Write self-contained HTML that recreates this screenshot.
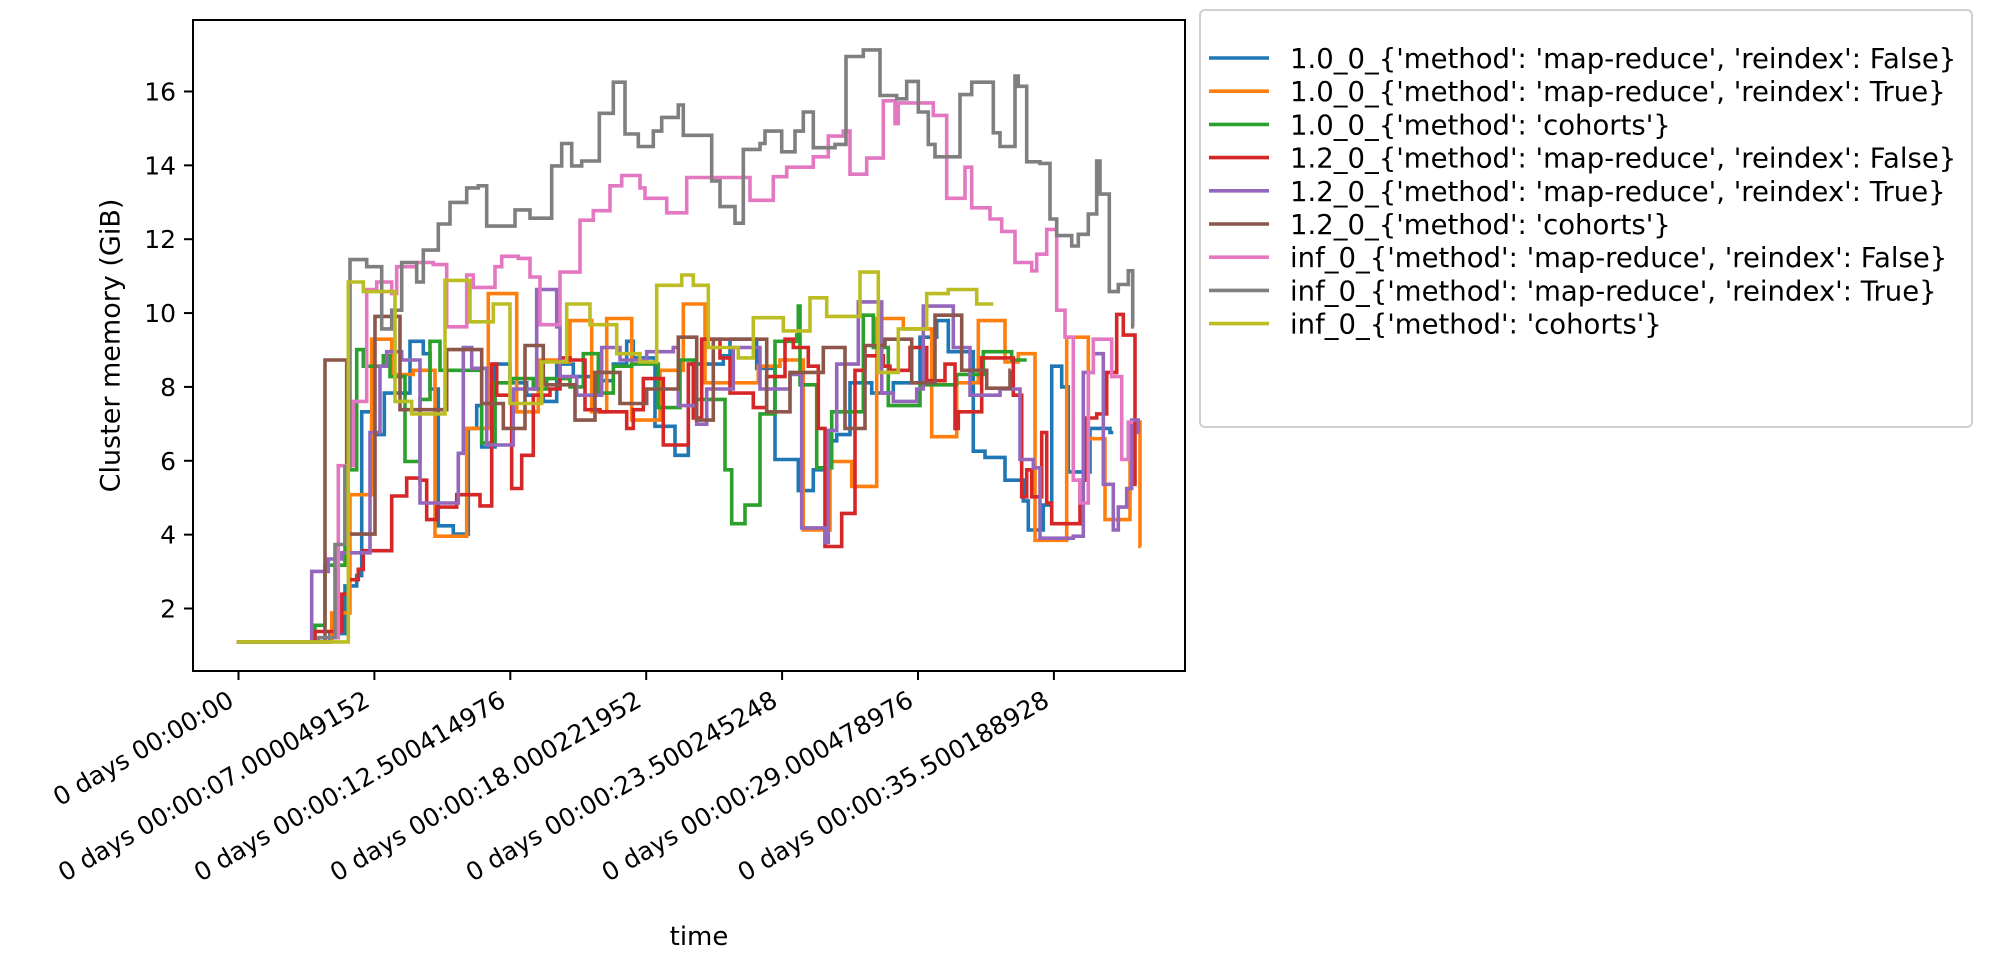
<!DOCTYPE html>
<html><head><meta charset="utf-8">
<style>
html,body{margin:0;padding:0;background:#fff;}
svg{display:block;}
text{font-family:"DejaVu Sans","Liberation Sans",sans-serif;fill:#000;}
</style></head>
<body>
<svg id="s" width="1992" height="972" viewBox="0 0 1992 972" xmlns="http://www.w3.org/2000/svg">
<rect width="1992" height="972" fill="#fff"/>
<g id="series" fill="none" stroke-width="3.6" stroke-linejoin="miter"></g>
<rect x="193" y="20" width="992" height="651" fill="none" stroke="#000" stroke-width="2"/>
<g id="ticks" stroke="#000" stroke-width="2"></g>
<g id="labels" font-size="25"></g>
<text x="112" y="345.5" font-size="27" text-anchor="middle" transform="rotate(-90 112 345.5)" dominant-baseline="middle">Cluster memory (GiB)</text>
<text x="699" y="945" font-size="26" text-anchor="middle">time</text>
<rect x="1200" y="10" width="772" height="417" rx="5" fill="#fff" fill-opacity="0.8" stroke="#d0d0d0" stroke-width="2"/>
<g id="legend" font-size="27.5"></g>
</svg>
<script>
var NS="http://www.w3.org/2000/svg";
function el(t,a,txt){var e=document.createElementNS(NS,t);for(var k in a)e.setAttribute(k,a[k]);if(txt!==undefined)e.textContent=txt;return e;}
function z3(p){return [190+p[0]/3, 20+p[1]/2.412];}
function z4(p){return [680+p[0]/3, 20+p[1]/2.412];}
var S=[
{c:"#1f77b4",a:[[140,1500],[420,1480],[465,1365],[500,1340],[515,945],[545,1000],[583,900],[660,775],[700,805],[720,890],[745,1220],[790,1240],[835,985],[860,930],[875,1030],[915,830],[960,875],[1010,905],[1060,920],[1100,830],[1150,860],[1220,870],[1270,830],[1310,775],[1330,815],[1395,980],[1455,1050],[1495,1030]],
 b:[[25,830],[130,810],[150,770],[230,840],[285,1060],[355,1135],[400,1085],[440,1015],[470,1000],[510,875],[575,900],[640,875],[720,765],[770,725],[805,800],[880,1040],[915,1055],[975,1110],[1030,1160],[1045,1230],[1090,1170],[1115,835],[1145,885],[1165,1090],[1230,985],[1290,995],[1300,995]]},
{c:"#ff7f0e",a:[[140,1500],[425,1430],[480,1145],[545,770],[605,855],[670,845],[735,1245],[830,985],[895,660],[980,945],[1045,820],[1100,825],[1140,725],[1205,945],[1250,720],[1325,965],[1410,845],[1480,685]],
 b:[[75,875],[235,835],[300,820],[370,1230],[450,1065],[515,1125],[590,720],[670,745],[755,1005],[830,875],[895,725],[975,825],[1015,805],[1065,1255],[1160,765],[1225,1010],[1275,1205],[1350,970],[1380,1270],[1382,1270]]},
{c:"#2ca02c",a:[[140,1500],[375,1460],[405,1315],[465,1085],[500,795],[520,835],[580,810],[600,860],[645,1065],[690,915],[720,775],[750,845],[875,1020],[915,875],[965,865],[1030,890],[1070,865],[1140,885],[1180,805],[1225,900],[1270,835],[1325,830],[1405,935],[1470,820]],
 b:[[40,915],[135,1085],[155,1215],[195,1170],[240,950],[285,775],[350,760],[355,690],[360,880],[410,1080],[455,945],[550,712],[580,790],[625,930],[720,880],[830,855],[910,800],[995,820],[1040,820]]},
{c:"#d62728",a:[[140,1500],[375,1475],[455,1385],[475,1350],[505,1325],[520,1280],[605,1148],[650,1105],[690,1110],[710,1205],[740,1175],[800,1145],[870,1172],[905,830],[920,905],[965,1130],[995,1050],[1030,905],[1080,890],[1110,815],[1140,820],[1185,940],[1230,945],[1310,985],[1330,940],[1360,865],[1420,1025],[1495,830]],
 b:[[20,830],[40,960],[65,770],[120,815],[150,900],[220,935],[260,860],[315,770],[340,790],[385,835],[415,985],[435,1270],[485,1190],[525,845],[555,810],[610,835],[630,845],[690,790],[740,870],[795,830],[825,985],[835,945],[905,815],[1000,905],[1025,1150],[1040,1085],[1055,1150],[1085,995],[1100,1165],[1115,1215],[1170,1215],[1200,1110],[1220,960],[1250,950],[1280,850],[1310,710],[1330,760],[1365,1120],[1370,1120]]},
{c:"#9467bd",a:[[140,1500],[365,1330],[415,1300],[455,1285],[540,995],[570,835],[590,800],[635,820],[690,1165],[805,1045],[820,790],[845,840],[890,1025],[970,890],[1040,650],[1100,740],[1110,860],[1160,905],[1235,790],[1290,820],[1370,800],[1450,790],[1465,930]],
 b:[[50,975],[80,890],[160,790],[240,890],[330,855],[365,1225],[435,1260],[445,990],[470,830],[535,680],[605,900],[640,920],[710,890],[730,690],[820,790],[870,905],[960,890],[1020,1060],[1060,1080],[1080,1250],[1180,1245],[1210,850],[1240,805],[1270,1120],[1300,1230],[1315,1175],[1340,1130],[1355,965],[1375,995],[1378,995]]},
{c:"#8c564b",a:[[140,1500],[405,820],[470,1240],[555,715],[630,940],[770,795],[875,925],[940,985],[1005,785],[1060,880],[1155,965],[1215,850],[1290,925],[1370,890],[1465,765]],
 b:[[50,965],[100,770],[260,945],[330,850],[430,790],[495,985],[555,785],[615,770],[695,875],[765,712],[845,845],[920,888],[990,845],[992,845]]},
{c:"#e377c2",a:[[140,1500],[385,1490],[445,1075],[490,920],[530,650],[560,632],[605,660],[620,595],[680,585],[730,590],[770,740],[830,615],[850,645],[915,595],[935,570],[985,575],[1020,620],[1050,735],[1110,608],[1170,483],[1210,460],[1260,400],[1295,375],[1350,405],[1365,430],[1430,465]],
 b:[[20,380],[210,435],[280,378],[320,355],[400,330],[445,280],[490,268],[510,372],[560,333],[610,195],[645,250],[655,200],[760,230],[800,430],[855,355],[875,453],[930,480],[965,510],[1005,585],[1055,605],[1070,565],[1100,505],[1130,700],[1155,765],[1180,1110],[1200,1165],[1225,850],[1240,770],[1295,860],[1325,1060],[1345,970],[1360,970]]},
{c:"#7f7f7f",a:[[140,1500],[385,1490],[435,1265],[465,1078],[480,578],[530,595],[575,745],[605,700],[635,585],[680,632],[700,555],[745,492],[780,440],[830,405],[865,400],[890,497],[975,458],[1020,478],[1085,352],[1115,298],[1145,352],[1175,340],[1228,225],[1270,150],[1305,275],[1345,305],[1390,268],[1415,235],[1465,205]],
 b:[[10,278],[95,388],[120,450],[165,490],[190,312],[240,298],[255,268],[305,318],[345,268],[370,222],[400,308],[465,300],[498,88],[550,72],[600,182],[650,190],[680,148],[715,222],[745,300],[765,330],[840,180],[875,150],[940,272],[960,305],[1005,135],[1015,160],[1040,342],[1080,346],[1110,480],[1130,520],[1175,545],[1195,517],[1225,468],[1250,340],[1260,420],[1288,655],[1315,638],[1345,605],[1358,740],[1362,740]]},
{c:"#bcbd22",a:[[140,1500],[475,632],[520,655],[615,920],[665,950],[765,628],[840,728],[910,685],[960,925],[1055,825],[1130,685],[1200,735],[1280,805],[1350,825],[1400,640],[1475,615]],
 b:[[40,640],[85,790],[175,815],[220,718],[310,750],[390,670],[440,715],[540,608],[595,850],[655,745],[740,660],[805,650],[890,685],[940,685]]}
];
var g=document.getElementById("series");
S.forEach(function(s){
  var pts=s.a.map(z3).concat(s.b.map(z4));
  var d="M"+pts[0][0].toFixed(1)+" "+pts[0][1].toFixed(1);
  for(var i=1;i<pts.length;i++){d+=" H"+pts[i][0].toFixed(1)+" V"+pts[i][1].toFixed(1);}
  g.appendChild(el("path",{d:d,stroke:s.c}));
});
var tk=document.getElementById("ticks"),lb=document.getElementById("labels");
for(var v=2;v<=16;v+=2){var y=608.5-(v-2)*36.93;
  tk.appendChild(el("line",{x1:184,x2:193,y1:y,y2:y}));
  lb.appendChild(el("text",{x:176,y:y+9,"text-anchor":"end"},String(v)));}
var xl=["0 days 00:00:00","0 days 00:00:07.000049152","0 days 00:00:12.500414976","0 days 00:00:18.000221952","0 days 00:00:23.500245248","0 days 00:00:29.000478976","0 days 00:00:35.500188928"];
for(var i=0;i<7;i++){var x=238.5+i*135.9;
  tk.appendChild(el("line",{x1:x,x2:x,y1:671,y2:680}));
  var ox=x-3,oy=705;
  lb.appendChild(el("text",{x:ox,y:oy,"text-anchor":"end",transform:"rotate(-30 "+ox+" "+oy+")"},xl[i]));}
var L=["1.0_0_{'method': 'map-reduce', 'reindex': False}","1.0_0_{'method': 'map-reduce', 'reindex': True}","1.0_0_{'method': 'cohorts'}","1.2_0_{'method': 'map-reduce', 'reindex': False}","1.2_0_{'method': 'map-reduce', 'reindex': True}","1.2_0_{'method': 'cohorts'}","inf_0_{'method': 'map-reduce', 'reindex': False}","inf_0_{'method': 'map-reduce', 'reindex': True}","inf_0_{'method': 'cohorts'}"];
var lg=document.getElementById("legend");
for(var i=0;i<9;i++){var y=58+i*33.2;
  lg.appendChild(el("line",{x1:1209,x2:1269,y1:y,y2:y,stroke:S[i].c,"stroke-width":3.6}));
  lg.appendChild(el("text",{x:1290,y:y+10},L[i]));}
</script>
</body></html>
